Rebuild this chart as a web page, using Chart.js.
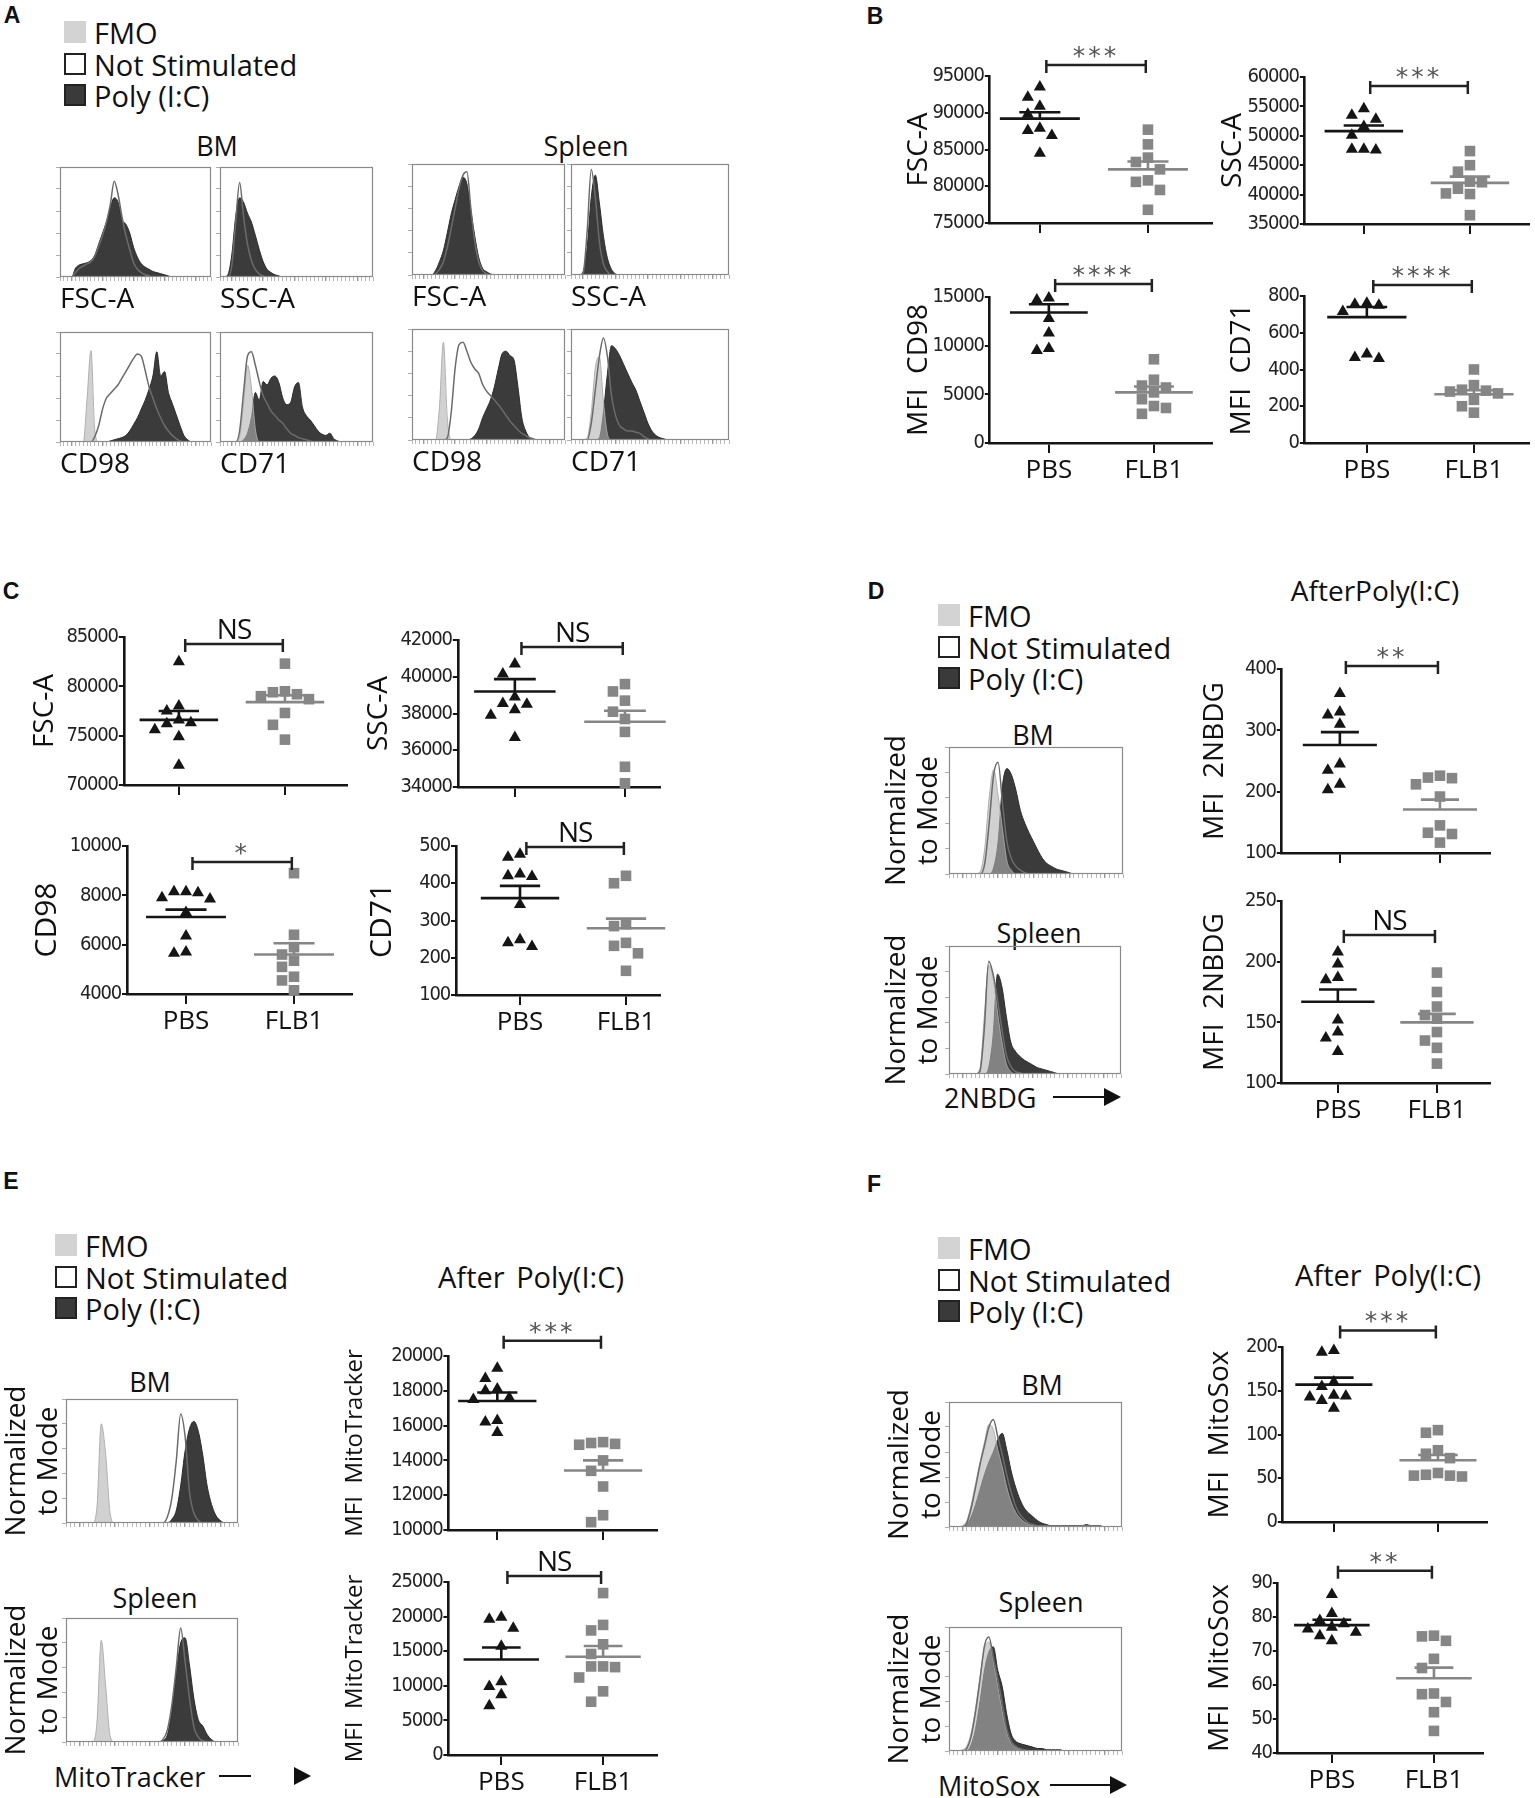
<!DOCTYPE html>
<html>
<head>
<meta charset="utf-8">
<script src="https://cdn.jsdelivr.net/npm/chart.js@4.4.1/dist/chart.umd.min.js"></script>
<style>
body{margin:0;background:#fff;}
#fig{position:relative;width:1535px;height:1798px;background:#fff;overflow:hidden;font-family:'Open Sans',sans-serif;color:#111;}
.t{position:absolute;white-space:nowrap;line-height:1;}
.c{transform:translate(-50%,-50%);}
.l{transform:translateY(-50%);}
.sw{position:absolute;width:22px;height:22px;box-sizing:border-box;}
canvas{position:absolute;}
</style>
</head>
<body>
<div id="fig"></div>
<script>
// ---------- data ----------
const groups = ['PBS', 'FLB1'];

// panel A histograms (40 bins, % of mode)
const aBmFscNs   = [0,0,0,0,4,8,10,12,14,19,28,38,50,66,87,75,55,38,25,13,7,4,2,1,0,0,0,0,0,0,0,0,0,0,0,0,0,0,0,0];
const aBmFscPoly = [0,0,0,0,8,11,12,13,15,20,30,40,50,63,72,68,52,48,40,27,18,12,9,7,5,4,3,2,1,0,0,0,0,0,0,0,0,0,0,0];
const aBmSscNs   = [0,0,0,10,50,86,55,30,15,7,3,1,0,0,0,0,0,0,0,0,0,0,0,0,0,0,0,0,0,0,0,0,0,0,0,0,0,0,0,0];
const aBmSscPoly = [0,0,2,20,55,72,68,58,50,38,25,14,7,4,2,1,0,0,0,0,0,0,0,0,0,0,0,0,0,0,0,0,0,0,0,0,0,0,0,0];
const aSpFscNs   = [0,0,0,0,0,0,1,5,12,25,42,60,78,90,93,60,30,12,4,1,0,0,0,0,0,0,0,0,0,0,0,0,0,0,0,0,0,0,0,0];
const aSpFscPoly = [0,0,0,0,0,0,4,12,22,38,55,68,80,88,82,58,35,16,6,3,1,0,0,0,0,0,0,0,0,0,0,0,0,0,0,0,0,0,0,0];
const aSpSscNs   = [0,0,0,2,40,95,70,30,10,3,0,0,0,0,0,0,0,0,0,0,0,0,0,0,0,0,0,0,0,0,0,0,0,0,0,0,0,0,0,0];
const aSpSscPoly = [0,0,0,3,25,70,90,65,35,15,5,1,0,0,0,0,0,0,0,0,0,0,0,0,0,0,0,0,0,0,0,0,0,0,0,0,0,0,0,0];
const aBmCd98Fmo  = [0,0,0,0,0,0,0,40,83,10,0,0,0,0,0,0,0,0,0,0,0,0,0,0,0,0,0,0,0,0,0,0,0,0,0,0,0,0,0,0];
const aBmCd98Ns   = [0,0,0,0,0,0,0,0,0,5,15,30,40,44,48,52,58,64,70,76,80,78,65,50,40,30,22,15,10,6,3,1,0,0,0,0,0,0,0,0];
const aBmCd98Poly = [0,0,0,0,0,0,0,0,0,0,0,0,0,1,2,3,4,6,10,16,22,30,38,48,60,82,60,64,45,35,25,15,6,2,0,0,0,0,0,0];
const aBmCd71Fmo  = [0,0,0,0,0,5,35,70,50,12,0,0,0,0,0,0,0,0,0,0,0,0,0,0,0,0,0,0,0,0,0,0,0,0,0,0,0,0,0,0];
const aBmCd71Ns   = [0,0,0,0,0,10,45,78,82,70,55,42,35,28,24,20,17,12,8,6,4,3,2,1,0,0,0,0,0,0,0,0,0,0,0,0,0,0,0,0];
const aBmCd71Poly = [0,0,0,0,0,0,2,8,22,45,38,55,52,58,60,54,40,34,36,50,54,32,24,20,15,10,7,6,8,3,1,0,0,0,0,0,0,0,0,0];
const aSpCd98Fmo  = [0,0,0,0,0,0,0,30,88,20,0,0,0,0,0,0,0,0,0,0,0,0,0,0,0,0,0,0,0,0,0,0,0,0,0,0,0,0,0,0];
const aSpCd98Ns   = [0,0,0,0,0,0,0,0,0,2,25,65,86,88,80,70,64,60,50,44,40,36,32,27,22,17,13,9,6,4,2,1,0,0,0,0,0,0,0,0];
const aSpCd98Poly = [0,0,0,0,0,0,0,0,0,0,0,0,0,0,0,1,4,10,20,28,36,48,64,78,80,76,72,48,20,8,2,0,0,0,0,0,0,0,0,0];
const aSpCd71Fmo  = [0,0,0,0,2,25,65,75,35,5,0,0,0,0,0,0,0,0,0,0,0,0,0,0,0,0,0,0,0,0,0,0,0,0,0,0,0,0,0,0];
const aSpCd71Ns   = [0,0,0,0,0,15,45,75,92,75,40,22,13,10,8,8,7,6,3,1,0,0,0,0,0,0,0,0,0,0,0,0,0,0,0,0,0,0,0,0];
const aSpCd71Poly = [0,0,0,0,0,0,0,2,25,60,85,82,76,68,60,52,45,35,25,15,8,4,2,1,0,0,0,0,0,0,0,0,0,0,0,0,0,0,0,0];

// panel D/E/F histograms
const dBmFmo  = [0,0,0,0,0,0,0,2,20,60,82,62,35,10,3,0,0,0,0,0,0,0,0,0,0,0,0,0,0,0,0,0,0,0,0,0,0,0,0,0];
const dBmNs   = [0,0,0,0,0,0,0,0,8,40,78,88,55,25,12,6,3,1,0,0,0,0,0,0,0,0,0,0,0,0,0,0,0,0,0,0,0,0,0,0];
const dBmPoly = [0,0,0,0,0,0,0,0,0,0,5,25,70,83,78,66,50,40,32,25,18,12,8,6,4,3,2,1,0,0,0,0,0,0,0,0,0,0,0,0];
const dSpFmo  = [0,0,0,0,0,0,0,4,45,85,75,48,25,8,2,0,0,0,0,0,0,0,0,0,0,0,0,0,0,0,0,0,0,0,0,0,0,0,0,0];
const dSpNs   = [0,0,0,0,0,0,0,2,35,88,78,58,35,15,6,2,1,0,0,0,0,0,0,0,0,0,0,0,0,0,0,0,0,0,0,0,0,0,0,0];
const dSpPoly = [0,0,0,0,0,0,0,0,0,5,30,78,68,45,25,18,14,11,9,7,5,4,3,2,1,0,0,0,0,0,0,0,0,0,0,0,0,0,0,0];
const eBmFmo  = [0,0,0,0,0,0,0,12,80,55,8,0,0,0,0,0,0,0,0,0,0,0,0,0,0,0,0,0,0,0,0,0,0,0,0,0,0,0,0,0];
const eBmNs   = [0,0,0,0,0,0,0,0,0,0,0,0,0,0,0,0,0,0,0,0,0,0,0,5,20,50,88,70,25,8,2,0,0,0,0,0,0,0,0,0];
const eBmPoly = [0,0,0,0,0,0,0,0,0,0,0,0,0,0,0,0,0,0,0,0,0,0,0,0,3,10,30,58,76,82,74,55,30,15,6,2,0,0,0,0];
const eSpFmo  = [0,0,0,0,0,0,0,15,82,45,5,0,0,0,0,0,0,0,0,0,0,0,0,0,0,0,0,0,0,0,0,0,0,0,0,0,0,0,0,0];
const eSpNs   = [0,0,0,0,0,0,0,0,0,0,0,0,0,0,0,0,0,0,0,0,0,0,2,10,30,60,92,65,35,12,4,1,0,0,0,0,0,0,0,0];
const eSpPoly = [0,0,0,0,0,0,0,0,0,0,0,0,0,0,0,0,0,0,0,0,0,0,1,6,25,55,80,84,62,35,18,13,6,2,0,0,0,0,0,0];
const fBmFmo  = [0,0,0,1,5,18,35,52,68,82,78,62,48,32,20,12,7,4,2,1,0,0,0,0,0,0,0,0,0,0,0,0,0,0,0,0,0,0,0,0];
const fBmNs   = [0,0,0,0,3,15,32,50,65,80,86,72,58,42,28,17,10,6,3,2,1,1,1,1,1,1,1,1,1,1,1,1,1,1,1,0,0,0,0,0];
const fBmPoly = [0,0,0,0,2,8,18,30,42,52,60,70,75,62,45,32,22,15,11,8,5,3,2,1,1,1,1,1,1,1,1,2,1,1,0,0,0,0,0,0];
const fSpFmo  = [0,0,0,1,4,15,35,60,82,88,72,52,32,15,6,3,1,0,0,0,0,0,0,0,0,0,0,0,0,0,0,0,0,0,0,0,0,0,0,0];
const fSpNs   = [0,0,0,0,2,12,32,58,85,92,75,58,38,18,8,4,2,1,0,0,0,0,0,0,0,0,0,0,0,0,0,0,0,0,0,0,0,0,0,0];
const fSpPoly = [0,0,0,0,0,5,18,40,65,80,84,65,52,30,14,8,6,5,4,3,2,2,1,1,1,1,0,0,0,0,0,0,0,0,0,0,0,0,0,0];

// panel B scatter
const bFscTicks = [75000, 80000, 85000, 90000, 95000];
const bFscPbs  = [93500, 92100, 90900, 89800, 87900, 87600, 86900, 84500];
const bFscFlb1 = [87700, 85700, 83900, 83300, 82300, 80800, 80600, 79500, 76800];
const bFscMean = [89200, 82300];
const bFscSem  = [870, 1060];
const bSscTicks = [35000, 40000, 45000, 50000, 55000, 60000];
const bSscPbs  = [54600, 53500, 52800, 51600, 50100, 47700, 47700, 47600];
const bSscFlb1 = [47400, 45000, 43900, 42200, 42100, 41000, 40200, 40100, 36500];
const bSscMean = [50800, 42000];
const bSscSem  = [950, 1050];
const bCd98Ticks = [0, 5000, 10000, 15000];
const bCd98Pbs  = [14900, 14700, 12800, 11300, 9700, 9500];
const bCd98Flb1 = [8600, 6500, 5900, 5700, 5200, 4500, 3800, 3600, 3000];
const bCd98Mean = [13400, 5200];
const bCd98Sem  = [850, 600];
const bCd71Ticks = [0, 200, 400, 600, 800];
const bCd71Pbs  = [760, 755, 750, 715, 485, 465, 460];
const bCd71Flb1 = [400, 315, 290, 285, 280, 270, 235, 200, 165];
const bCd71Mean = [685, 265];
const bCd71Sem  = [55, 22];
const bSig  = ['***', '***', '****', '****'];
const bSigY = [96500, 58470, 16340, 860];

// panel C scatter
const cFscTicks = [70000, 75000, 80000, 85000];
const cFscPbs  = [82500, 78000, 77500, 76600, 76300, 76200, 75600, 74900, 72000];
const cFscFlb1 = [82300, 79500, 79400, 79200, 79000, 78700, 77300, 76100, 74600];
const cFscMean = [76600, 78400];
const cFscSem  = [900, 700];
const cSscTicks = [34000, 36000, 38000, 40000, 42000];
const cSscPbs  = [40700, 40150, 38900, 38550, 38500, 38200, 37900, 36700];
const cSscFlb1 = [39600, 39200, 38700, 38100, 37700, 37000, 35100, 34200];
const cSscMean = [39200, 37550];
const cSscSem  = [670, 600];
const cCd98Ticks = [4000, 6000, 8000, 10000];
const cCd98Pbs  = [8150, 8150, 8100, 7900, 7850, 7300, 6350, 5700, 5650];
const cCd98Flb1 = [8900, 6400, 5900, 5600, 5350, 5100, 4700, 4550, 4150];
const cCd98Mean = [7120, 5600];
const cCd98Sem  = [300, 460];
const cCd71Ticks = [100, 200, 300, 400, 500];
const cCd71Pbs  = [478, 470, 425, 420, 418, 343, 248, 240, 230];
const cCd71Flb1 = [420, 400, 290, 285, 240, 232, 212, 165];
const cCd71Mean = [360, 279];
const cCd71Sem  = [33, 26];
const cSig  = ['NS', 'NS', '*', 'NS'];
const cSigY = [84290, 41620, 9350, 497];

// panel D scatter (2NBDG)
const dBmTicks = [100, 200, 300, 400];
const dBmPbs  = [360, 330, 325, 310, 245, 235, 212, 203];
const dBmFlb1 = [226, 223, 222, 212, 192, 145, 133, 131, 117];
const dBmMean = [276, 171];
const dBmSem  = [21, 16];
const dSpTicks = [100, 150, 200, 250];
const dSpPbs  = [208, 198, 187, 185, 152, 142, 137, 126];
const dSpFlb1 = [191, 175, 163, 156, 153, 142, 135, 129, 116];
const dSpMean = [167, 150];
const dSpSem  = [10, 7];
const dSig  = ['**', 'NS'];
const dSigY = [405, 222];

// panel E scatter (MitoTracker)
const eBmTicks = [10000, 12000, 14000, 16000, 18000, 20000];
const eBmPbs  = [19300, 18700, 18100, 18000, 17600, 17500, 16300, 16200, 15600];
const eBmFlb1 = [15050, 15000, 14950, 14900, 14000, 13400, 12500, 10850, 10450];
const eBmMean = [17410, 13420];
const eBmSem  = [490, 580];
const eSpTicks = [0, 5000, 10000, 15000, 20000, 25000];
const eSpPbs  = [19900, 19600, 18300, 15700, 10600, 9900, 8700, 7100];
const eSpFlb1 = [23400, 18800, 18000, 16000, 14600, 12800, 12800, 12700, 11200, 9200, 7700];
const eSpMean = [13800, 14200];
const eSpSem  = [1730, 1560];
const eSig  = ['***', 'NS'];
const eSigY = [20870, 25860];

// panel F scatter (MitoSox)
const fBmTicks = [0, 50, 100, 150, 200];
const fBmPbs  = [196, 194, 160, 155, 145, 144, 143, 139, 130];
const fBmFlb1 = [105, 102, 82, 78, 73, 56, 54, 53, 53, 52];
const fBmMean = [157, 70.5];
const fBmSem  = [8, 6];
const fSpTicks = [40, 50, 60, 70, 80, 90];
const fSpPbs  = [86.6, 81, 79, 78, 77, 76.5, 75.5, 74.5, 73];
const fSpFlb1 = [74.5, 74.3, 73, 67.7, 65, 57.5, 57.3, 55, 52, 46.5];
const fSpMean = [77.6, 62];
const fSpSem  = [1.6, 3.1];
const fSig  = ['***', '**'];
const fSigY = [219, 93.6];

const legendItems = ['FMO', 'Not Stimulated', 'Poly (I:C)'];

// ---------- drawing ----------
const BLACK = '#151515', GREY = '#868686';
const NARROW = "'DejaVu Sans Condensed','DejaVu Sans',sans-serif";
Chart.defaults.font.family = "'Open Sans', sans-serif";
Chart.defaults.color = '#111';

const fig = document.getElementById('fig');

function mk(l, t, w, h) {
  const c = document.createElement('canvas');
  c.width = Math.round(w); c.height = Math.round(h);
  c.style.left = l + 'px'; c.style.top = t + 'px';
  c.style.width = Math.round(w) + 'px'; c.style.height = Math.round(h) + 'px';
  fig.appendChild(c);
  return c;
}

function text(s, x, y, size, cls, extra) {
  const d = document.createElement('div');
  d.className = 't ' + (cls || 'c');
  d.textContent = s;
  d.style.left = x + 'px'; d.style.top = y + 'px'; d.style.fontSize = size + 'px';
  if (extra) Object.assign(d.style, extra);
  fig.appendChild(d);
  return d;
}

function panelLetter(s, x, y) {
  text(s, x, y, 23, 'c', {fontFamily: "'Liberation Sans', Arial, sans-serif", fontWeight: 'bold'});
}

function legend(x, y) {
  const sw = [
    {background: '#d3d3d3'},
    {background: '#fff', border: '2px solid #222'},
    {background: '#3a3a3a', border: '2px solid #222'}
  ];
  legendItems.forEach((s, i) => {
    const yy = y + i * 31.5;
    const b = document.createElement('div');
    b.className = 'sw';
    b.style.left = x + 'px'; b.style.top = (yy - 11) + 'px';
    Object.assign(b.style, sw[i]);
    fig.appendChild(b);
    text(s, x + 30, yy, 29, 'l');
  });
}

function arrowLabel(s, x, y, lineFrom, lineTo, headX) {
  text(s, x, y, 27, 'l');
  const ln = document.createElement('div');
  Object.assign(ln.style, {position: 'absolute', left: lineFrom + 'px', top: (y - 1) + 'px',
    width: (lineTo - lineFrom) + 'px', height: '2px', background: '#111'});
  fig.appendChild(ln);
  const hd = document.createElement('div');
  Object.assign(hd.style, {position: 'absolute', left: headX + 'px', top: (y - 9) + 'px', width: 0, height: 0,
    borderLeft: '17px solid #111', borderTop: '9px solid transparent', borderBottom: '9px solid transparent'});
  fig.appendChild(hd);
}

const framePlugin = {
  id: 'frame',
  afterDraw(chart) {
    const {ctx, chartArea: a} = chart;
    ctx.save();
    ctx.strokeStyle = '#8a8a8a'; ctx.lineWidth = 1.2;
    ctx.strokeRect(a.left + 0.5, a.top + 0.5, a.right - a.left - 1, a.bottom - a.top - 1);
    ctx.restore();
  }
};

// condensed y tick labels (drawn after datasets, ticks.z = 1)
const narrowPlugin = {
  id: 'narrow',
  afterDatasetsDraw(chart) { chart.ctx.letterSpacing = '-1.2px'; }
};

const sigPlugin = {
  id: 'sig',
  afterDraw(chart, args, opt) {
    const {ctx, scales: {x, y}} = chart;
    const py = y.getPixelForValue(opt.y);
    const xa = x.getPixelForValue(0.06), xb = x.getPixelForValue(0.98);
    ctx.save();
    ctx.strokeStyle = '#222'; ctx.lineWidth = 2.5;
    ctx.beginPath();
    ctx.moveTo(xa, py); ctx.lineTo(xb, py);
    ctx.moveTo(xa, py - 5); ctx.lineTo(xa, py + 8);
    ctx.moveTo(xb, py - 5); ctx.lineTo(xb, py + 8);
    ctx.stroke();
    const star = opt.text.startsWith('*');
    ctx.font = star ? "25px 'DejaVu Sans'" : "28px 'Open Sans'";
    ctx.fillStyle = star ? '#555' : '#111';
    ctx.textAlign = 'center'; ctx.textBaseline = 'alphabetic';
    ctx.letterSpacing = star ? '3px' : '-1px';
    ctx.fillText(opt.text, (xa + xb) / 2, py - (star ? 1 : 5));
    ctx.restore();
  }
};

function hist(o) {
  const [l, t, r, b] = o.box;
  const yw = o.yTitle ? o.yw : 6;
  const xh = o.xTitle ? 40 : (o.yTitle ? 24 : 8);
  const pt = o.yTitle ? 24 : 3;
  const left = l - yw, top = t - pt;
  const cv = mk(left, top, r - left + 3, b - top + xh);
  const ds = [{data: o.ns, borderColor: '#6b6b6b', borderWidth: 1.5, fill: false}];
  if (o.fmo) ds.push({data: o.fmo, borderColor: 'rgba(170,170,170,0.9)', borderWidth: 1, backgroundColor: 'rgba(178,178,178,0.6)', fill: 'origin'});
  ds.push({data: o.poly, borderColor: '#2c2c2c', borderWidth: 1, backgroundColor: '#3b3b3b', fill: 'origin'});
  ds.forEach(d => { d.pointRadius = 0; d.tension = 0.3; d.cubicInterpolationMode = 'monotone'; });
  new Chart(cv, {
    type: 'line',
    data: {labels: o.ns.map((v, i) => i), datasets: ds},
    options: {
      responsive: false, animation: false, events: [], devicePixelRatio: 1,
      layout: {padding: {top: pt, right: 3, left: 0, bottom: 0}, autoPadding: false},
      plugins: {legend: {display: false}, tooltip: {enabled: false}},
      scales: {
        x: {
          afterFit: ax => { ax.height = xh; },
          ticks: {display: false, autoSkip: false},
          grid: {drawOnChartArea: false, tickLength: 4, color: '#999', lineWidth: c => (c.index % 8 === 3 ? 1.4 : 0.7)},
          border: {display: false},
          title: {display: !!o.xTitle, text: o.xTitle || '', align: 'start', font: {size: 28}, padding: 0, color: '#111'}
        },
        y: {
          min: 0, max: 100,
          afterFit: ax => { ax.width = yw; },
          ticks: {display: false, stepSize: 20},
          grid: {drawOnChartArea: false, tickLength: 4, color: '#999', lineWidth: 0.8},
          border: {display: false},
          title: {display: !!o.yTitle, text: ['Normalized', 'to Mode'], font: {size: 28, lineHeight: 1.15}, padding: 0, color: '#111'}
        }
      }
    },
    plugins: [framePlugin]
  });
}

function swarm(vals, ppv, unitPx) {
  const placed = [];
  return vals.map(v => {
    const y = v * ppv;
    for (const k of [0, -1, 1, -2, 2, -3, 3]) {
      const x = k * 12;
      if (placed.every(p => Math.hypot(p.x - x, p.y - y) >= 12)) {
        placed.push({x, y});
        return x / unitPx;
      }
    }
    return 0;
  });
}

function scatter(o) {
  const g = o.geom;
  const left = g.tx - o.titleSize * 0.6;
  const padTop = 62, xh = 46;
  const top = g.T - padTop;
  const cv = mk(left, top, g.R - left + 12, g.B - top + xh);
  const unit = g.c1 - g.c0;
  const lo = o.ticks[0], hi = o.ticks[o.ticks.length - 1];
  const ppv = (g.B - g.T) / (hi - lo);
  const pts = (vals, gi) => {
    const off = swarm(vals, ppv, unit);
    return vals.map((v, i) => ({x: gi + off[i], y: v}));
  };
  const seg = (a, b, col) => ({type: 'line', data: [a, b], borderColor: col, borderWidth: 2.6, pointRadius: 0, fill: false, clip: false});
  const ds = [];
  [0, 1].forEach(gi => {
    const col = gi ? GREY : BLACK;
    const m = o.mean[gi], s = o.sem[gi];
    ds.push(seg({x: gi - 0.37, y: m}, {x: gi + 0.37, y: m}, col));
    ds.push(seg({x: gi, y: m}, {x: gi, y: m + s}, col));
    ds.push(seg({x: gi - 0.19, y: m + s}, {x: gi + 0.19, y: m + s}, col));
  });
  ds.push({type: 'scatter', data: pts(o.pbs, 0), pointStyle: 'triangle', pointRadius: 7, backgroundColor: BLACK, borderWidth: 0, clip: false});
  ds.push({type: 'scatter', data: pts(o.flb1, 1), pointStyle: 'rect', pointRadius: 7.5, backgroundColor: GREY, borderWidth: 0, clip: false});
  new Chart(cv, {
    type: 'scatter',
    data: {datasets: ds},
    options: {
      responsive: false, animation: false, events: [], devicePixelRatio: 1,
      layout: {padding: {top: padTop, right: 12, left: 0, bottom: 0}, autoPadding: false},
      plugins: {legend: {display: false}, tooltip: {enabled: false}, sig: {y: o.sigY, text: o.sig}},
      scales: {
        x: {
          type: 'linear', min: -(g.c0 - g.L) / unit, max: (g.R - g.c0) / unit,
          afterBuildTicks: ax => { ax.ticks = [{value: 0}, {value: 1}]; },
          afterFit: ax => { ax.height = xh; },
          ticks: {display: !!o.showX, autoSkip: false, maxRotation: 0, padding: 2, font: {size: 26}, color: '#111',
            callback: v => groups[v] ?? ''},
          grid: {drawOnChartArea: false, tickLength: 10, color: BLACK, lineWidth: 2},
          border: {color: BLACK, width: 2.6}
        },
        y: {
          min: lo, max: hi,
          afterBuildTicks: ax => { ax.ticks = o.ticks.map(v => ({value: v})); },
          afterFit: ax => { ax.width = g.L - left; },
          ticks: {z: 1, font: {family: NARROW, size: 20}, color: '#222', padding: 1, callback: v => String(v)},
          grid: {drawOnChartArea: false, tickLength: 5, color: BLACK, lineWidth: 2},
          border: {color: BLACK, width: 2.6},
          title: {display: true, text: o.title, font: {size: o.titleSize}, padding: 0, color: '#111'}
        }
      }
    },
    plugins: [narrowPlugin, sigPlugin]
  });
}

// ----- panel letters & headers -----
panelLetter('A', 12, 15); panelLetter('B', 875, 16);
panelLetter('C', 11, 591); panelLetter('D', 876, 591);
panelLetter('E', 11, 1181); panelLetter('F', 874, 1184);

legend(64, 32); legend(938, 615); legend(55, 1245); legend(938, 1248);

text('BM', 217, 145, 27); text('Spleen', 586, 145, 27);
text('BM', 1033, 734, 27); text('Spleen', 1039, 932, 27);
text('BM', 150, 1381, 27); text('Spleen', 155, 1597, 27);
text('BM', 1042, 1384, 27); text('Spleen', 1041, 1601, 27);
text('AfterPoly(I:C)', 1375, 590, 28);
text('After Poly(I:C)', 531, 1276, 29, 'c', {wordSpacing: '4px'});
text('After Poly(I:C)', 1388, 1274, 29, 'c', {wordSpacing: '4px'});

arrowLabel('2NBDG', 944, 1097, 1053, 1106, 1104);
arrowLabel('MitoTracker', 54, 1776, 219, 251, 294);
arrowLabel('MitoSox', 938, 1785, 1050, 1112, 1110);

// ----- panel A histograms -----
hist({box: [60, 167, 211, 277], ns: aBmFscNs, poly: aBmFscPoly, xTitle: 'FSC-A'});
hist({box: [220, 167, 373, 277], ns: aBmSscNs, poly: aBmSscPoly, xTitle: 'SSC-A'});
hist({box: [412, 164, 565, 275], ns: aSpFscNs, poly: aSpFscPoly, xTitle: 'FSC-A'});
hist({box: [571, 164, 729, 275], ns: aSpSscNs, poly: aSpSscPoly, xTitle: 'SSC-A'});
hist({box: [60, 332, 211, 442], fmo: aBmCd98Fmo, ns: aBmCd98Ns, poly: aBmCd98Poly, xTitle: 'CD98'});
hist({box: [220, 332, 373, 442], fmo: aBmCd71Fmo, ns: aBmCd71Ns, poly: aBmCd71Poly, xTitle: 'CD71'});
hist({box: [412, 329, 565, 440], fmo: aSpCd98Fmo, ns: aSpCd98Ns, poly: aSpCd98Poly, xTitle: 'CD98'});
hist({box: [571, 329, 729, 440], fmo: aSpCd71Fmo, ns: aSpCd71Ns, poly: aSpCd71Poly, xTitle: 'CD71'});

// ----- D/E/F histograms -----
hist({box: [949, 747, 1123, 874], fmo: dBmFmo, ns: dBmNs, poly: dBmPoly, yTitle: true, yw: 68});
hist({box: [949, 946, 1121, 1074], fmo: dSpFmo, ns: dSpNs, poly: dSpPoly, yTitle: true, yw: 68});
hist({box: [66, 1399, 238, 1523], fmo: eBmFmo, ns: eBmNs, poly: eBmPoly, yTitle: true, yw: 65});
hist({box: [66, 1618, 238, 1742], fmo: eSpFmo, ns: eSpNs, poly: eSpPoly, yTitle: true, yw: 65});
hist({box: [949, 1402, 1122, 1527], fmo: fBmFmo, ns: fBmNs, poly: fBmPoly, yTitle: true, yw: 65});
hist({box: [949, 1627, 1122, 1751], fmo: fSpFmo, ns: fSpNs, poly: fSpPoly, yTitle: true, yw: 65});

// ----- panel B -----
scatter({geom: {L: 990, R: 1212, T: 76, B: 223, tx: 919, c0: 1040, c1: 1148}, ticks: bFscTicks,
  pbs: bFscPbs, flb1: bFscFlb1, mean: bFscMean, sem: bFscSem, title: 'FSC-A', titleSize: 28, sig: bSig[0], sigY: bSigY[0]});
scatter({geom: {L: 1305, R: 1529, T: 77, B: 224, tx: 1233, c0: 1364, c1: 1470}, ticks: bSscTicks,
  pbs: bSscPbs, flb1: bSscFlb1, mean: bSscMean, sem: bSscSem, title: 'SSC-A', titleSize: 28, sig: bSig[1], sigY: bSigY[1]});
scatter({geom: {L: 990, R: 1212, T: 297, B: 443, tx: 919, c0: 1049, c1: 1154}, ticks: bCd98Ticks,
  pbs: bCd98Pbs, flb1: bCd98Flb1, mean: bCd98Mean, sem: bCd98Sem, title: 'MFI  CD98', titleSize: 28, sig: bSig[2], sigY: bSigY[2], showX: true});
scatter({geom: {L: 1305, R: 1529, T: 296, B: 443, tx: 1242, c0: 1367, c1: 1474}, ticks: bCd71Ticks,
  pbs: bCd71Pbs, flb1: bCd71Flb1, mean: bCd71Mean, sem: bCd71Sem, title: 'MFI  CD71', titleSize: 28, sig: bSig[3], sigY: bSigY[3], showX: true});

// ----- panel C -----
scatter({geom: {L: 124, R: 347, T: 637, B: 785, tx: 45, c0: 179, c1: 285}, ticks: cFscTicks,
  pbs: cFscPbs, flb1: cFscFlb1, mean: cFscMean, sem: cFscSem, title: 'FSC-A', titleSize: 28, sig: cSig[0], sigY: cSigY[0]});
scatter({geom: {L: 458, R: 660, T: 640, B: 787, tx: 379, c0: 515, c1: 625}, ticks: cSscTicks,
  pbs: cSscPbs, flb1: cSscFlb1, mean: cSscMean, sem: cSscSem, title: 'SSC-A', titleSize: 28, sig: cSig[1], sigY: cSigY[1]});
scatter({geom: {L: 127, R: 352, T: 846, B: 994, tx: 47, c0: 186, c1: 294}, ticks: cCd98Ticks,
  pbs: cCd98Pbs, flb1: cCd98Flb1, mean: cCd98Mean, sem: cCd98Sem, title: 'CD98', titleSize: 30, sig: cSig[2], sigY: cSigY[2], showX: true});
scatter({geom: {L: 456, R: 660, T: 846, B: 995, tx: 382, c0: 520, c1: 626}, ticks: cCd71Ticks,
  pbs: cCd71Pbs, flb1: cCd71Flb1, mean: cCd71Mean, sem: cCd71Sem, title: 'CD71', titleSize: 30, sig: cSig[3], sigY: cSigY[3], showX: true});

// ----- panel D -----
scatter({geom: {L: 1282, R: 1490, T: 669, B: 853, tx: 1215, c0: 1340, c1: 1440}, ticks: dBmTicks,
  pbs: dBmPbs, flb1: dBmFlb1, mean: dBmMean, sem: dBmSem, title: 'MFI  2NBDG', titleSize: 28, sig: dSig[0], sigY: dSigY[0]});
scatter({geom: {L: 1282, R: 1490, T: 901, B: 1083, tx: 1215, c0: 1338, c1: 1437}, ticks: dSpTicks,
  pbs: dSpPbs, flb1: dSpFlb1, mean: dSpMean, sem: dSpSem, title: 'MFI  2NBDG', titleSize: 28, sig: dSig[1], sigY: dSigY[1], showX: true});

// ----- panel E -----
scatter({geom: {L: 448, R: 657, T: 1356, B: 1530, tx: 355, c0: 497, c1: 603}, ticks: eBmTicks,
  pbs: eBmPbs, flb1: eBmFlb1, mean: eBmMean, sem: eBmSem, title: 'MFI  MitoTracker', titleSize: 24, sig: eSig[0], sigY: eSigY[0]});
scatter({geom: {L: 448, R: 657, T: 1582, B: 1755, tx: 355, c0: 501, c1: 603}, ticks: eSpTicks,
  pbs: eSpPbs, flb1: eSpFlb1, mean: eSpMean, sem: eSpSem, title: 'MFI  MitoTracker', titleSize: 24, sig: eSig[1], sigY: eSigY[1], showX: true});

// ----- panel F -----
scatter({geom: {L: 1283, R: 1487, T: 1347, B: 1522, tx: 1220, c0: 1334, c1: 1438}, ticks: fBmTicks,
  pbs: fBmPbs, flb1: fBmFlb1, mean: fBmMean, sem: fBmSem, title: 'MFI  MitoSox', titleSize: 28, sig: fSig[0], sigY: fSigY[0]});
scatter({geom: {L: 1278, R: 1483, T: 1583, B: 1753, tx: 1220, c0: 1332, c1: 1434}, ticks: fSpTicks,
  pbs: fSpPbs, flb1: fSpFlb1, mean: fSpMean, sem: fSpSem, title: 'MFI  MitoSox', titleSize: 28, sig: fSig[1], sigY: fSigY[1], showX: true});
</script>
</body>
</html>
